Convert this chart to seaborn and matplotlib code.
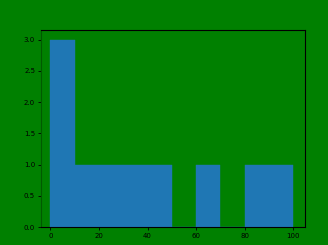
import matplotlib
matplotlib.use("Agg")
import matplotlib.pyplot as plt
import seaborn as sns
import numpy as np

bin_edges = [0, 10, 20, 30, 40, 50, 60, 70, 80, 90, 100]
bin_left = [0, 10, 20, 30, 40, 50, 60, 70, 80, 90]
counts = [3, 1, 1, 1, 1, 0, 1, 0, 1, 1]
xticks = [0, 20, 40, 60, 80, 100]
yticks = [0.0, 0.5, 1.0, 1.5, 2.0, 2.5, 3.0]

sns.set_style("ticks")
plt.rcParams['font.family'] = ['DejaVu Sans']

fig = plt.figure(figsize=(3.28, 2.45), dpi=100, facecolor="green")
ax = fig.add_axes([0.124, 0.073, 0.807, 0.803])
ax.set_facecolor("green")

sns.histplot(x=bin_left, weights=counts, bins=bin_edges, ax=ax,
             color="#1f77b4", alpha=1.0, edgecolor="#1f77b4", linewidth=0.3)

ax.set_xlim(-4, 105)
ax.set_ylim(0, 3.15)
ax.set_xticks(xticks)
ax.set_yticks(yticks)
ax.set_xticklabels([str(t) for t in xticks])
ax.set_yticklabels([f"{t:.1f}" for t in yticks])
ax.set_xlabel("")
ax.set_ylabel("")
ax.tick_params(labelsize=5, length=2.5, width=0.6, pad=1.5, colors="black")
for side in ["top", "right", "bottom"]:
    ax.spines[side].set_visible(True)
    ax.spines[side].set_color("black")
    ax.spines[side].set_linewidth(0.8)
ax.spines["left"].set_color("#005a00")
ax.spines["left"].set_linewidth(0.8)

fig.savefig("out.png", dpi=100, facecolor="green")
